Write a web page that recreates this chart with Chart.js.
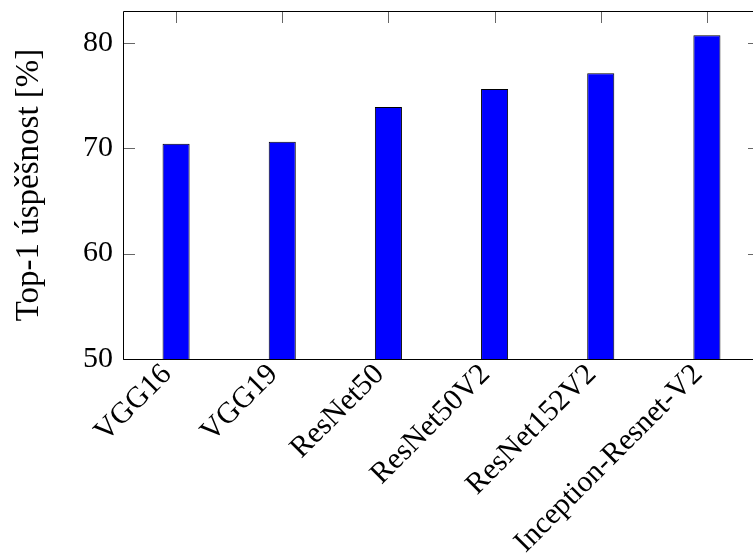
<!DOCTYPE html>
<html>
<head>
<meta charset="utf-8">
<script src="https://cdn.jsdelivr.net/npm/chart.js@4.4.0/dist/chart.umd.min.js"></script>
<style>
  html, body { margin: 0; padding: 0; background: #fff; overflow: hidden; }
  #wrap { position: absolute; left: 0; top: -17px; width: 775px; height: 574px; }
</style>
</head>
<body>
<div id="wrap"><canvas id="c"></canvas></div>
<script>
// data
var models = ['VGG16', 'VGG19', 'ResNet50', 'ResNet50V2', 'ResNet152V2', 'Inception-Resnet-V2'];
var top1 = [70.4, 70.6, 73.9, 75.6, 77.1, 80.7];
var yTicks = [50, 60, 70, 80];

var serif = '"Liberation Serif", "DejaVu Serif", serif';

// pgfplots style frame with inward ticks
var framePlugin = {
  id: 'frame',
  afterDraw: function(chart) {
    var ctx = chart.ctx, a = chart.chartArea;
    var xs = chart.scales.x, ys = chart.scales.y;
    var len = 12;
    ctx.save();
    ctx.strokeStyle = '#666';
    ctx.lineWidth = 1;
    ctx.beginPath();
    for (var i = 0; i < models.length; i++) {
      var x = Math.round(xs.getPixelForValue(i)) + 0.5;
      ctx.moveTo(x, a.top);
      ctx.lineTo(x, a.top + len);
    }
    yTicks.forEach(function(v) {
      var y = Math.round(ys.getPixelForValue(v)) + 0.5;
      ctx.moveTo(a.left, y);
      ctx.lineTo(a.left + len, y);
      ctx.moveTo(a.right, y);
      ctx.lineTo(a.right - len, y);
    });
    ctx.stroke();
    ctx.strokeStyle = '#000';
    ctx.beginPath();
    ctx.rect(Math.round(a.left) + 0.5, Math.round(a.top) + 0.5, Math.round(a.right - a.left), Math.round(a.bottom - a.top));
    ctx.stroke();
    ctx.restore();
  }
};

var chart = new Chart(document.getElementById('c').getContext('2d'), {
  type: 'bar',
  data: {
    labels: models,
    datasets: [{
      data: top1,
      backgroundColor: '#0000ff',
      borderColor: '#000',
      borderWidth: 1,
      categoryPercentage: 1,
      barPercentage: 0.255
    }]
  },
  options: {
    responsive: true,
    maintainAspectRatio: false,
    animation: false,
    layout: { autoPadding: false, padding: { top: 0, right: 15, left: 0, bottom: 0 } },
    plugins: { legend: { display: false }, tooltip: { enabled: false } },
    scales: {
      x: {
        grid: { display: false, drawTicks: false },
        border: { display: false },
        ticks: {
          color: '#000',
          font: { family: serif, size: 30 },
          minRotation: 45,
          maxRotation: 45,
          labelOffset: -9,
          padding: -2
        },
        afterFit: function(s) { s.height = 198; }
      },
      y: {
        min: 50,
        max: 83,
        grid: { display: false, drawTicks: false },
        border: { display: false },
        ticks: {
          stepSize: 10,
          includeBounds: false,
          color: '#000',
          padding: 10,
          font: { family: serif, size: 30 }
        },
        title: {
          display: true,
          text: 'Top-1 úspěšnost [%]',
          color: '#000',
          font: { family: serif, size: 33 },
          padding: { top: 10, bottom: 0 }
        },
        afterFit: function(s) { s.width = 123; }
      }
    }
  },
  plugins: [framePlugin]
});
</script>
</body>
</html>
